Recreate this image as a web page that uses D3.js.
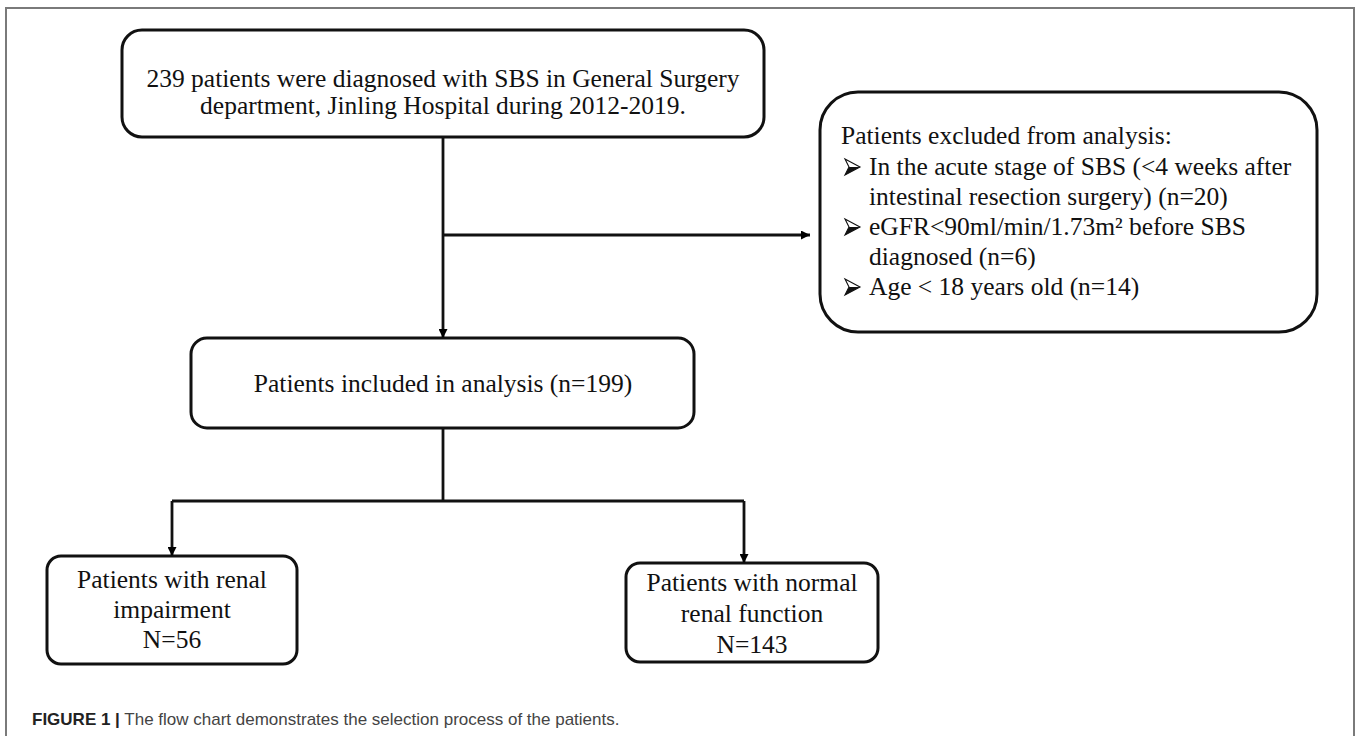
<!DOCTYPE html>
<head>
  <meta charset="utf-8">
  <script src="https://d3js.org/d3.v7.min.js"></script>
  <style>
    body { margin:0; background:#fff; }
  </style>
</head>

<body>
  <script>
    // ---- chart values ----
    var diagnosedN = 239;
    var includedN = 199;
    var groupN = [56, 143];
    var topLines = [diagnosedN + ' patients were diagnosed with SBS in General Surgery',
                    'department, Jinling Hospital during 2012-2019.'];
    var excludeTitle = 'Patients excluded from analysis:';
    var excludeItems = [
      ['In the acute stage of SBS (<4 weeks after', 'intestinal resection surgery) (n=20)'],
      ['eGFR<90ml/min/1.73m\u00B2 before SBS', 'diagnosed (n=6)'],
      ['Age < 18 years old (n=14)']
    ];
    var groupLines = [['Patients with renal', 'impairment', 'N=' + groupN[0]],
                      ['Patients with normal', 'renal function', 'N=' + groupN[1]]];
    var captionBold = 'FIGURE 1 |';
    var captionText = ' The flow chart demonstrates the selection process of the patients.';

    // ---- layout (pixels) ----
    var width = 1357, height = 736;
    var serif = '"Liberation Serif", "Times New Roman", serif';
    var fs = 25.5;

    var boxTop   = {x0: 122, x1: 764, y0: 30, y1: 137, r: 20};
    var boxExcl  = {x0: 820, x1: 1317, y0: 92, y1: 332, r: 38};
    var boxMid   = {x0: 191, x1: 694, y0: 338, y1: 428, r: 16};
    var boxLeft  = {x0: 47, x1: 297, y0: 556, y1: 664, r: 14};
    var boxRight = {x0: 626, x1: 878, y0: 563, y1: 662, r: 14};

    var svg = d3.select('body')
      .append('svg')
      .attr('width', width)
      .attr('height', height);

    svg.append('defs').append('marker')
      .attr('id', 'arrow')
      .attr('viewBox', '0 0 10 10')
      .attr('refX', 10).attr('refY', 5)
      .attr('markerUnits', 'userSpaceOnUse')
      .attr('markerWidth', 11).attr('markerHeight', 9)
      .attr('orient', 'auto')
      .append('path')
      .attr('d', 'M0,0 L10,5 L0,10 z')
      .attr('fill', '#000');

    // outer frame
    svg.append('rect')
      .attr('x', 6).attr('y', 8)
      .attr('width', 1348).attr('height', 800)
      .attr('fill', 'none')
      .attr('stroke', '#7a7a7a')
      .attr('stroke-width', 2);

    function box(b) {
      svg.append('rect')
        .attr('x', b.x0).attr('y', b.y0)
        .attr('width', b.x1 - b.x0).attr('height', b.y1 - b.y0)
        .attr('rx', b.r).attr('ry', b.r)
        .attr('fill', 'none')
        .attr('stroke', '#111')
        .attr('stroke-width', 3);
    }
    [boxTop, boxExcl, boxMid, boxLeft, boxRight].forEach(box);

    function centered(lines, cx, y0, step) {
      svg.append('g').selectAll('text')
        .data(lines)
        .enter()
        .append('text')
        .attr('x', cx)
        .attr('y', (d, i) => y0 + i * step)
        .attr('text-anchor', 'middle')
        .style('font-family', serif)
        .style('font-size', fs + 'px')
        .style('fill', '#111')
        .text(d => d);
    }

    var cx = (boxTop.x0 + boxTop.x1) / 2;
    centered(topLines, cx, 87, 27);
    centered(['Patients included in analysis (n=' + includedN + ')'], cx, 392, 0);
    centered(groupLines[0], (boxLeft.x0 + boxLeft.x1) / 2, 588, 30);
    centered(groupLines[1], (boxRight.x0 + boxRight.x1) / 2, 591, 31);

    // exclusion box text
    var ex = svg.append('g');
    ex.append('text')
      .attr('x', 841).attr('y', 144)
      .style('font-family', serif).style('font-size', fs + 'px').style('fill', '#111')
      .text(excludeTitle);

    function bullet(x, y) {
      // wingdings-like 3D arrowhead
      var g = ex.append('g').attr('transform', 'translate(' + x + ',' + y + ')');
      g.append('path')
        .attr('d', 'M0,-8 L15,0 L0,8 L4,0 Z')
        .attr('fill', '#fff').attr('stroke', '#111').attr('stroke-width', 1.1);
      g.append('path')
        .attr('d', 'M4,0 L15,0 L0,8 Z')
        .attr('fill', '#111');
    }

    var row = 0;
    excludeItems.forEach(function(item) {
      item.forEach(function(line, j) {
        var y = 175 + row * 30;
        if (j === 0) bullet(845, y - 8);
        ex.append('text')
          .attr('x', 869).attr('y', y)
          .style('font-family', serif).style('font-size', fs + 'px').style('fill', '#111')
          .text(line);
        row++;
      });
    });

    // connectors
    var line = d3.line();
    function link(pts, arrow) {
      svg.append('path')
        .attr('d', line(pts))
        .attr('fill', 'none')
        .attr('stroke', '#111')
        .attr('stroke-width', 2.8)
        .attr('marker-end', arrow ? 'url(#arrow)' : null);
    }
    var splitY = 501;
    var leftX = (boxLeft.x0 + boxLeft.x1) / 2;
    var rightX = 744;
    link([[cx, boxTop.y1], [cx, boxMid.y0]], true);
    link([[cx, 235], [810, 235]], true);
    link([[cx, boxMid.y1], [cx, splitY]], false);
    link([[leftX, splitY], [rightX, splitY]], false);
    link([[leftX, splitY], [leftX, boxLeft.y0]], true);
    link([[rightX, splitY], [rightX, boxRight.y0]], true);

    // caption
    var cap = svg.append('text')
      .attr('x', 32).attr('y', 725)
      .style('font-family', '"Liberation Sans", Arial, sans-serif')
      .style('font-size', '17px');
    cap.append('tspan').style('font-weight', 'bold').style('fill', '#222').text(captionBold);
    cap.append('tspan').style('fill', '#444').text(captionText);
  </script>
</body>
